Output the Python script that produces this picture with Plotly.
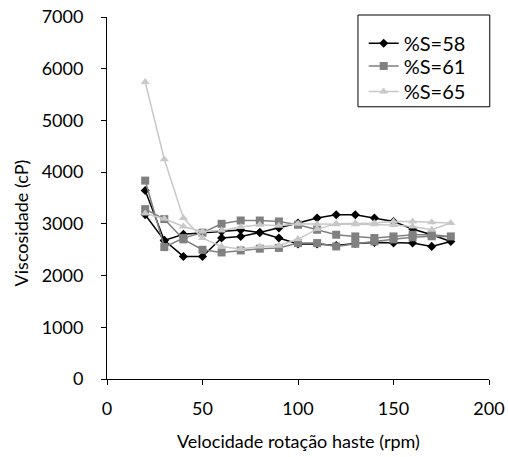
import plotly.graph_objects as go

# rotation speed: ascending 20..180 then descending back to 20
rpm_up = [20, 30, 40, 50, 60, 70, 80, 90, 100, 110, 120, 130, 140, 150, 160, 170, 180]
rpm_down = [170, 160, 150, 140, 130, 120, 110, 100, 90, 80, 70, 60, 50, 40, 30, 20]
rpm = rpm_up + rpm_down

s58 = [3645, 2680, 2370, 2370, 2726, 2757, 2834, 2919, 3015, 3112, 3176, 3176, 3112, 3046, 2900, 2790, 2660,
       2564, 2630, 2630, 2640, 2620, 2580, 2610, 2610, 2726, 2834, 2880, 2853, 2834, 2800, 2680, 3175]
s61 = [3837, 2551, 2725, 2830, 3001, 3065, 3065, 3046, 2983, 2886, 2790, 2757, 2726, 2757, 2790, 2790, 2757,
       2760, 2740, 2700, 2660, 2615, 2563, 2628, 2628, 2535, 2520, 2486, 2447, 2499, 2700, 3092, 3285]
s65 = [5743, 4250, 3111, 2725, 2563, 2512, 2563, 2577, 2706, 2899, 3001, 3015, 3015, 3046, 3046, 3030, 3015,
       2886, 2950, 2980, 2990, 2990, 2990, 2990, 3000, 2964, 2983, 2940, 2871, 2852, 2949, 3100, 3200]

names = ["%S=58", "%S=61", "%S=65"]
colors = ["#000000", "#808080", "#c8c8c8"]
symbols = ["diamond", "square", "triangle-up"]
sizes = [7, 8, 8]
legend_ids = ["legend", "legend2", "legend3"]

x_title = "Velocidade rotação haste (rpm)"
y_title = "Viscosidade (cP)"

fig = go.Figure()
for name, ys, c, sym, sz, lg in zip(names, [s58, s61, s65], colors, symbols, sizes, legend_ids):
    fig.add_trace(go.Scatter(
        x=rpm, y=ys, name=name, mode="lines+markers",
        line=dict(color=c, width=1.5),
        marker=dict(symbol=sym, size=sz, color=c),
        legend=lg,
    ))

fam = "Lato, 'Open Sans', sans-serif"
font = dict(family=fam, size=18, color="#000000")


def legend_at(yc):
    return dict(
        x=0.672, y=yc, xanchor="left", yanchor="middle",
        borderwidth=0, bgcolor="rgba(0,0,0,0)",
        font=dict(family=fam, size=20, color="#000000"),
        itemwidth=30,
    )


fig.update_layout(
    width=508, height=457,
    margin=dict(l=107, r=19, t=17, b=78, autoexpand=False),
    paper_bgcolor="white", plot_bgcolor="white",
    font=font,
    showlegend=True,
    legend=legend_at(0.9274),
    legend2=legend_at(0.8648),
    legend3=legend_at(0.7939),
    xaxis=dict(
        range=[0, 200], dtick=50, tick0=0, automargin=False,
        showline=True, linecolor="#000000", linewidth=1,
        ticks="outside", ticklen=5, tickcolor="#000000",
        ticklabelstandoff=8, ticklabeloverflow="allow",
        showgrid=False, zeroline=False,
    ),
    yaxis=dict(
        range=[0, 7000], dtick=1000, tick0=0, automargin=False,
        showline=True, linecolor="#000000", linewidth=1,
        ticks="outside", ticklen=5, tickcolor="#000000",
        ticklabelstandoff=14, ticklabeloverflow="allow",
        showgrid=False, zeroline=False,
    ),
    shapes=[
        dict(type="rect", xref="paper", yref="paper", x0=0.657, x1=1.002, y0=0.752, y1=1.0055,
             line=dict(color="#000000", width=1), fillcolor="rgba(0,0,0,0)", layer="above"),
    ],
    annotations=[
        dict(text=x_title, xref="paper", yref="paper", x=0.5, y=-0.17,
             xanchor="center", yanchor="middle", showarrow=False,
             font=dict(family=fam, size=18, color="#000000")),
        dict(text=y_title, xref="paper", yref="paper", x=-0.225, y=0.43,
             xanchor="center", yanchor="middle", showarrow=False, textangle=-90,
             font=dict(family=fam, size=18, color="#000000")),
    ],
)

fig.write_html("out.html", config={"displayModeBar": False},
               post_script="document.body.style.margin='0';")
